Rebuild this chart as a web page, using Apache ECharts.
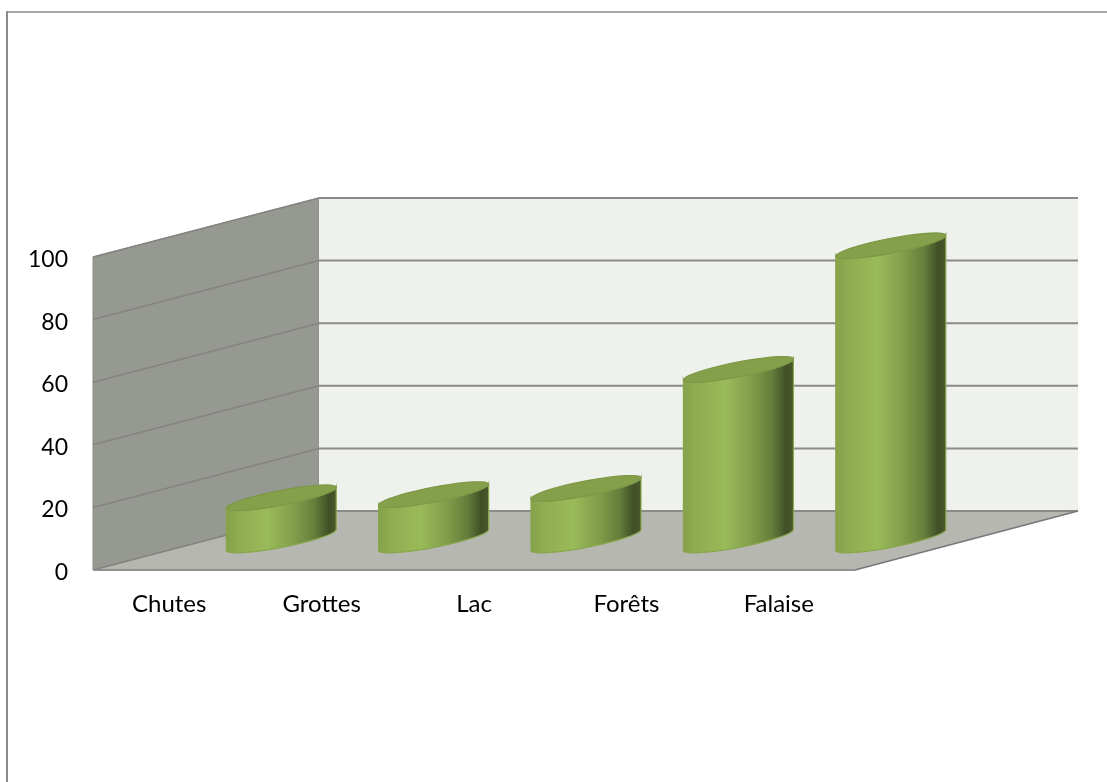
<!DOCTYPE html>
<html>
<head>
<meta charset="utf-8">
<title>Chart</title>
<style>
  html, body { margin: 0; padding: 0; background: #fff; }
  #chart { width: 1107px; height: 782px; }
</style>
<script src="https://cdn.jsdelivr.net/npm/echarts@6/dist/echarts.min.js"></script>
</head>
<body>
<div id="chart"></div>
<script>
const categories = ['Chutes', 'Grottes', 'Lac', 'Forêts', 'Falaise'];
const siteValues = [13.5, 14.5, 16.5, 54.5, 94];
const tickValues = [0, 20, 40, 60, 80, 100];

// fake 3D: the back wall sits this far behind the axes plane
const depthX = 226;
const depthY = -59;
const backInset = 3; // back wall is a bit narrower than the front plane
// cylinders stand about half way into the depth
const barShiftX = 112;
const barShiftY = -30;
const barRadiusX = 55;
const barRadiusY = 7.5;
const barTilt = 0.19;

const chart = echarts.init(document.getElementById('chart'));

const renderWalls = (params, api) => {
  const { x, y, width, height } = params.coordSys;
  const left = x;
  const right = x + width;
  const bottom = y + height;
  const backLeft = left + depthX;
  const backRight = right + depthX - backInset;
  const children = [
    {
      type: 'polygon',
      shape: { points: [[left, y], [backLeft, y + depthY], [backLeft, bottom + depthY], [left, bottom]] },
      style: { fill: '#969892', stroke: '#8a8b88', lineWidth: 1 }
    },
    {
      type: 'rect',
      shape: { x: backLeft, y: y + depthY, width: backRight - backLeft, height: height },
      style: { fill: '#eff1ec' }
    },
    {
      type: 'polygon',
      shape: { points: [[left, bottom], [right, bottom], [backRight, bottom + depthY], [backLeft, bottom + depthY]] },
      style: { fill: '#b5b7b0' }
    }
  ];
  tickValues.forEach(tick => {
    const tickY = api.coord([0, tick])[1];
    children.push({
      type: 'line',
      shape: { x1: left, y1: tickY, x2: backLeft, y2: tickY + depthY },
      style: { stroke: '#83847f', lineWidth: 1.5 }
    });
    children.push({
      type: 'line',
      shape: { x1: backLeft, y1: tickY + depthY, x2: backRight, y2: tickY + depthY },
      style: { stroke: '#8a8b88', lineWidth: 2 }
    });
  });
  children.push({
    type: 'line',
    shape: { x1: left, y1: bottom, x2: right, y2: bottom },
    style: { stroke: '#8f908c', lineWidth: 2 }
  });
  children.push({
    type: 'line',
    shape: { x1: right, y1: bottom, x2: backRight, y2: bottom + depthY },
    style: { stroke: '#77787a', lineWidth: 1.5 }
  });
  return { type: 'group', children };
};

const ellipseArc = (cx, cy, from, to) => {
  const points = [];
  const steps = 40;
  for (let i = 0; i <= steps; i++) {
    const t = from + (to - from) * i / steps;
    points.push([
      cx + barRadiusX * Math.cos(t),
      cy - barTilt * barRadiusX * Math.cos(t) - barRadiusY * Math.sin(t)
    ]);
  }
  return points;
};

const renderCylinder = (params, api) => {
  const base = api.coord([api.value(0), 0]);
  const top = api.coord([api.value(0), api.value(1)]);
  const cx = base[0] + barShiftX;
  const baseY = base[1] + barShiftY;
  const topY = top[1] + barShiftY;
  const bottomArc = ellipseArc(cx, baseY, Math.PI, Math.PI * 2);
  const topArc = ellipseArc(cx, topY, Math.PI * 2, Math.PI);
  return {
    type: 'group',
    children: [
      {
        type: 'polygon',
        shape: { points: bottomArc.concat(topArc) },
        style: {
          fill: new echarts.graphic.LinearGradient(0, 0, 1, 0, [
            { offset: 0, color: '#84a04a' },
            { offset: 0.1, color: '#8fab50' },
            { offset: 0.38, color: '#9abb59' },
            { offset: 0.62, color: '#819d4a' },
            { offset: 0.8, color: '#657e3b' },
            { offset: 0.93, color: '#404f26' },
            { offset: 1, color: '#4a592c' }
          ]),
          stroke: '#8aa64c',
          lineWidth: 1.2
        }
      },
      {
        type: 'polygon',
        shape: { points: ellipseArc(cx, topY, 0, Math.PI * 2) },
        style: { fill: '#84a04a', stroke: '#7d9846', lineWidth: 1.2 }
      }
    ]
  };
};

chart.setOption({
  animation: false,
  backgroundColor: '#fff',
  textStyle: { fontFamily: 'Lato' },
  grid: { left: 93, top: 257, width: 762, height: 313 },
  xAxis: {
    type: 'category',
    data: categories,
    axisLine: { show: false },
    axisTick: { show: false },
    axisLabel: { color: '#000', fontSize: 24, margin: 22 },
    z: 5
  },
  yAxis: {
    type: 'value',
    min: 0,
    max: 100,
    interval: 20,
    axisLine: { show: false },
    axisTick: { show: false },
    splitLine: { show: false },
    // top-aligned with a tiny line box nudges the labels just under the tick
    axisLabel: { color: '#000', fontSize: 23, margin: 25, verticalAlign: 'top', lineHeight: 5 }
  },
  series: [
    {
      type: 'custom',
      coordinateSystem: 'cartesian2d',
      data: [[0, 0]],
      renderItem: renderWalls,
      silent: true,
      z: 1
    },
    {
      type: 'custom',
      coordinateSystem: 'cartesian2d',
      data: siteValues.map((v, i) => [i, v]),
      encode: { x: 0, y: 1 },
      renderItem: renderCylinder,
      clip: false,
      z: 2
    }
  ],
  graphic: [
    {
      type: 'line',
      shape: { x1: 7, y1: 12, x2: 1107, y2: 12 },
      style: { stroke: '#8c8c8c', lineWidth: 1.5 }
    },
    {
      type: 'line',
      shape: { x1: 7, y1: 11, x2: 7, y2: 782 },
      style: { stroke: '#8c8c8c', lineWidth: 2 }
    }
  ]
});
</script>
</body>
</html>
